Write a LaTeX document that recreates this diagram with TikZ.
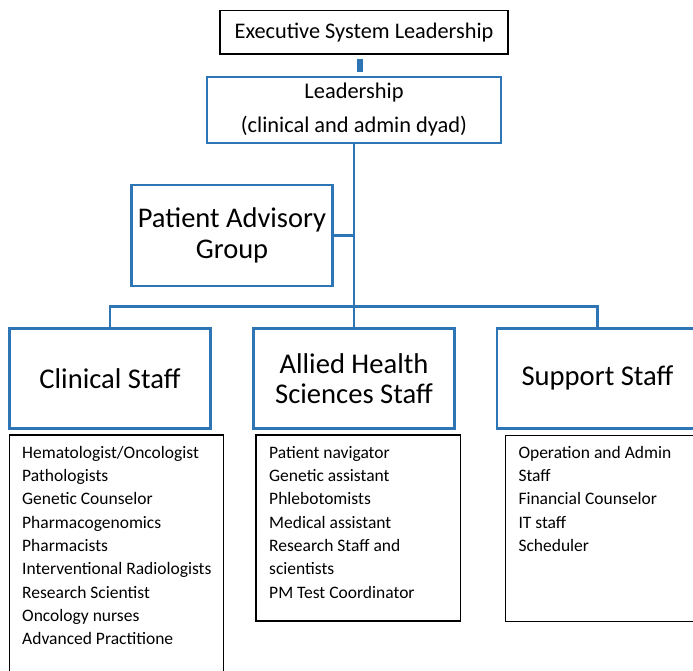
\documentclass[tikz,border=0pt]{standalone}
\usepackage{fontspec}
\setmainfont{Carlito}
\definecolor{orgblue}{RGB}{46,117,182}

\begin{document}
\begin{tikzpicture}[x=1pt,y=-1pt,
  bluebox/.style={draw=orgblue,line width=2.6pt,fill=white,align=center,inner sep=0pt},
  blackbox/.style={draw=black,line width=1.3pt,fill=white,align=center,inner sep=0pt},
  link/.style={draw=orgblue,line width=2.6pt},
  listframe/.style={draw=black,line width=1.3pt},
  listtext/.style={anchor=north west,align=left,inner sep=0pt,font=\fontsize{17.5}{23.3}\selectfont}]
\clip (0,0) rectangle (693,670);

\node[blackbox,minimum width=288pt,minimum height=43.5pt,font=\fontsize{22.3}{26}\selectfont] (exec) at (364,32.3) {Executive System Leadership};
\node[bluebox,minimum width=294pt,minimum height=66pt,font=\fontsize{22.4}{34}\selectfont] (lead) at (354,110) {Leadership\\(clinical and admin dyad)};
\node[bluebox,minimum width=201pt,minimum height=101pt,font=\fontsize{28.5}{31}\selectfont] (pag) at (232,235.5) {Patient Advisory\\Group};

\node[bluebox,minimum width=201pt,minimum height=100pt,font=\fontsize{28.6}{30}\selectfont] (clin) at (110,378.3) {Clinical Staff};
\node[bluebox,minimum width=201pt,minimum height=100pt,font=\fontsize{28.6}{30}\selectfont] (allied) at (354,378.3) {Allied Health\\Sciences Staff};
\node[bluebox,minimum width=201pt,minimum height=100pt,font=\fontsize{28.6}{30}\selectfont] (supp) at (597.5,378.3) {Support Staff};

\coordinate (bus) at (354,306.7);

\draw[link,line width=5.5pt] ([shift={(-4,4.5)}]exec.south) -- ([shift={(-4,-4)}]exec.south |- lead.north);
\draw[link] (lead.south) -- (allied.north);
\draw[link] (pag.east) -- (pag.east -| lead.south);
\draw[link] (clin.north) |- (bus) -| (supp.north);

\draw[listframe] (9.3,435) rectangle (223.3,690);
\draw[listframe] (256,435) rectangle (460.7,621);
\draw[listframe] (505.7,435.7) rectangle (712,621.7);

\node[listtext] (clinlist) at (22,446) {Hematologist/Oncologist\\Pathologists\\Genetic Counselor\\Pharmacogenomics\\Pharmacists\\Interventional Radiologists\\Research Scientist\\Oncology nurses\\Advanced Practitione};
\node[listtext] (alliedlist) at (269,446) {Patient navigator\\Genetic assistant\\Phlebotomists\\Medical assistant\\Research Staff and\\scientists\\PM Test Coordinator};
\node[listtext] (supplist) at (518.3,446) {Operation and Admin\\Staff\\Financial Counselor\\IT staff\\Scheduler};
\end{tikzpicture}
\end{document}
